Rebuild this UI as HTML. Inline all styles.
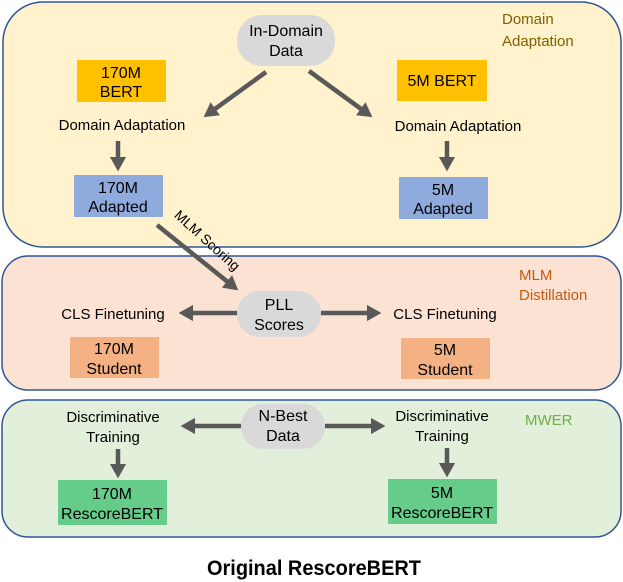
<!DOCTYPE html>
<html><head><meta charset="utf-8"><style>
html,body{margin:0;padding:0;background:#fff;}
svg{display:block;font-family:"Liberation Sans",sans-serif;}
</style></head><body>
<svg width="623" height="582" viewBox="0 0 623 582" xmlns="http://www.w3.org/2000/svg">
<defs>
<marker id="ah" markerWidth="3.6" markerHeight="3.6" refX="2" refY="1.8" orient="auto" markerUnits="strokeWidth">
<path d="M0,0 L3.2,1.8 L0,3.6 z" fill="#595959"/></marker>
</defs>
<rect x="3" y="2" width="618" height="245" rx="40" fill="#fff2cc" stroke="#2f5597" stroke-width="1.5"/>
<rect x="2" y="256" width="619" height="134" rx="26" fill="#fbe2d2" stroke="#2f5597" stroke-width="1.5"/>
<rect x="2" y="400" width="619" height="137" rx="26" fill="#e2efda" stroke="#2f5597" stroke-width="1.5"/>

<g font-size="15" fill="#7f6000"><text x="502" y="24">Domain</text><text x="502" y="46">Adaptation</text></g>
<g font-size="15" fill="#c55a11"><text x="519" y="280">MLM</text><text x="519" y="300">Distillation</text></g>
<text x="525" y="425" font-size="15" fill="#70ad47">MWER</text>

<g stroke="#595959" stroke-width="4.5" fill="none" marker-end="url(#ah)">
<line x1="266" y1="72" x2="208" y2="114"/>
<line x1="309" y1="71" x2="368" y2="114"/>
<line x1="118" y1="141" x2="118" y2="166"/>
<line x1="447" y1="141" x2="447" y2="166"/>
<line x1="157" y1="225" x2="234" y2="287"/>
<line x1="237" y1="313" x2="184" y2="313"/>
<line x1="321" y1="313" x2="376" y2="313"/>
<line x1="241" y1="426" x2="186" y2="426"/>
<line x1="325" y1="426" x2="380" y2="426"/>
<line x1="118" y1="449" x2="118" y2="473"/>
<line x1="447" y1="448" x2="447" y2="472"/>
</g>

<rect x="237" y="15" width="98" height="51" rx="25" fill="#d9d9d9"/>
<rect x="237" y="291" width="84" height="46" rx="23" fill="#d9d9d9"/>
<rect x="241" y="404" width="84" height="45" rx="22" fill="#d9d9d9"/>

<rect x="77" y="60" width="89" height="42" fill="#ffc000"/>
<rect x="397" y="60" width="90" height="41" fill="#ffc000"/>
<rect x="74" y="175" width="89" height="42" fill="#8faadc"/>
<rect x="399" y="177" width="89" height="42" fill="#8faadc"/>
<rect x="70" y="337" width="89" height="41" fill="#f4b183"/>
<rect x="401" y="338" width="89" height="41" fill="#f4b183"/>
<rect x="58" y="480" width="109" height="45" fill="#66cc8a"/>
<rect x="388" y="479" width="109" height="45" fill="#66cc8a"/>

<g font-size="16" fill="#000" text-anchor="middle">
<text x="286" y="36">In-Domain</text><text x="286" y="56">Data</text>
<text x="121" y="78">170M</text><text x="121" y="97">BERT</text>
<text x="442" y="86">5M BERT</text>
<text x="118" y="193">170M</text><text x="118" y="212">Adapted</text>
<text x="443" y="195">5M</text><text x="443" y="214">Adapted</text>
<text x="279" y="310">PLL</text><text x="279" y="330">Scores</text>
<text x="114" y="354">170M</text><text x="114" y="374">Student</text>
<text x="445" y="355">5M</text><text x="445" y="375">Student</text>
<text x="283" y="421">N-Best</text><text x="283" y="441">Data</text>
<text x="112" y="499">170M</text><text x="112" y="519">RescoreBERT</text>
<text x="442" y="498">5M</text><text x="442" y="518">RescoreBERT</text>
</g>
<g font-size="15" fill="#000" text-anchor="middle">
<text x="122" y="130">Domain Adaptation</text>
<text x="458" y="131">Domain Adaptation</text>
<text x="113" y="319">CLS Finetuning</text>
<text x="445" y="319">CLS Finetuning</text>
<text x="113" y="422">Discriminative</text><text x="113" y="442">Training</text>
<text x="442" y="421">Discriminative</text><text x="442" y="441">Training</text>
<text x="0" y="0" font-size="14" transform="translate(204,244) rotate(42)">MLM Scoring</text>
</g>
<text x="314" y="575" font-size="21" font-weight="bold" text-anchor="middle" fill="#000" textLength="214" lengthAdjust="spacingAndGlyphs">Original RescoreBERT</text>
</svg>
</body></html>
